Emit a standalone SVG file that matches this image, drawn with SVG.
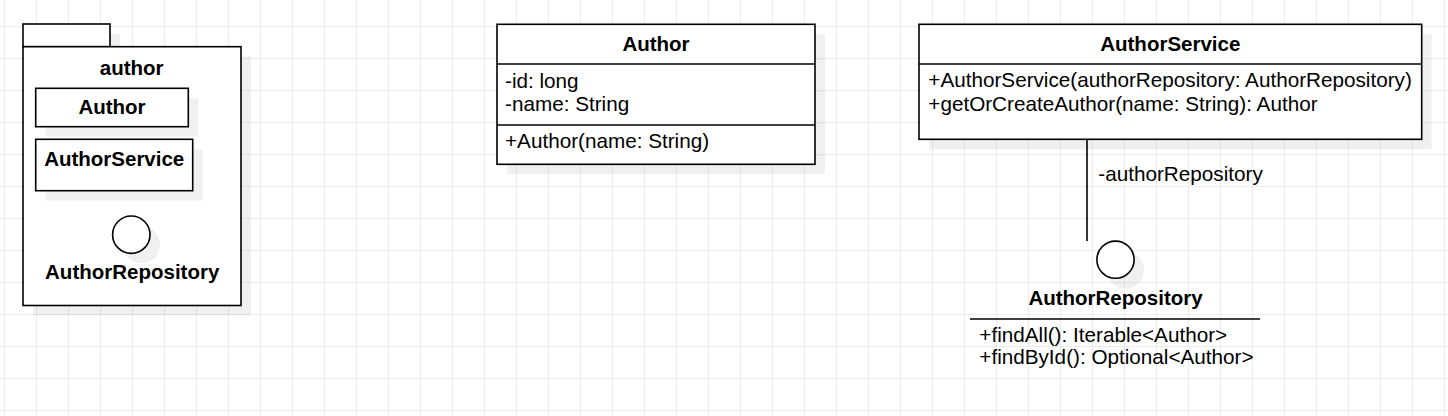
<svg xmlns="http://www.w3.org/2000/svg" width="1448" height="416" viewBox="0 0 1448 416">
  <defs>
    <pattern id="grid" x="4" y="26" width="32" height="32" patternUnits="userSpaceOnUse">
      <path d="M0 0.5 H32 M0.5 0 V32" fill="none" stroke="#ebebeb" stroke-width="1"/>
    </pattern>
  </defs>
  <style>
    text { font-family: "Liberation Sans", Arial, sans-serif; font-size: 20.7px; fill: #000; }
    .b { font-weight: bold; font-size: 20.5px; }
    .c { text-anchor: middle; }
    .box { fill: #fff; stroke: #000; stroke-width: 1.6; }
    .ln { fill: none; stroke: #000; stroke-width: 1.6; }
    .sh { fill: #000; fill-opacity: 0.06; stroke: none; }
  </style>
  <rect width="1448" height="416" fill="#fff"/>
  <rect width="1448" height="416" fill="url(#grid)"/>

  <g id="package-author">
    <rect class="sh" x="33" y="34" width="87" height="23"/>
    <rect class="sh" x="33" y="56.7" width="218" height="258.8"/>
    <rect class="box" x="23" y="24" width="87" height="22.7"/>
    <rect class="box" x="23" y="46.7" width="218" height="258.8"/>
    <text class="b c" x="131.7" y="75">author</text>
    <g id="pkg-author-class">
      <rect class="sh" x="45.7" y="98.3" width="152.6" height="38.4"/>
      <rect class="box" x="35.7" y="88.3" width="152.6" height="38.4"/>
      <text class="b c" x="112" y="114.3">Author</text>
    </g>
    <g id="pkg-authorservice-class">
      <rect class="sh" x="45.7" y="149.3" width="157" height="51.4"/>
      <rect class="box" x="35.7" y="139.3" width="157" height="51.4"/>
      <text class="b c" x="114.2" y="165.7">AuthorService</text>
    </g>
    <g id="pkg-authorrepository-interface">
      <circle class="sh" cx="141.3" cy="244.7" r="18.7"/>
      <circle class="box" cx="131.3" cy="234.7" r="18.7"/>
      <text class="b c" x="132.2" y="279.3">AuthorRepository</text>
    </g>
  </g>

  <g id="class-author">
    <rect class="sh" x="507" y="34.3" width="318" height="140"/>
    <rect class="box" x="497" y="24.3" width="318" height="140"/>
    <line class="ln" x1="497" y1="64" x2="815" y2="64"/>
    <line class="ln" x1="497" y1="125" x2="815" y2="125"/>
    <text class="b c" x="656" y="50.7">Author</text>
    <text x="505" y="87.5">-id: long</text>
    <text x="505" y="111">-name: String</text>
    <text x="505" y="148">+Author(name: String)</text>
  </g>

  <g id="class-authorservice">
    <rect class="sh" x="929" y="34.3" width="502.7" height="115"/>
    <rect class="box" x="919" y="24.3" width="502.7" height="115"/>
    <line class="ln" x1="919" y1="64" x2="1421.7" y2="64"/>
    <text class="b c" x="1170.3" y="50.7">AuthorService</text>
    <text x="928.3" y="87">+AuthorService(authorRepository: AuthorRepository)</text>
    <text x="928.3" y="110.5">+getOrCreateAuthor(name: String): Author</text>
  </g>

  <g id="connectors">
    <line class="ln" x1="1087" y1="139.3" x2="1087" y2="241"/>
    <text x="1098.3" y="180.7">-authorRepository</text>
  </g>

  <g id="interface-authorrepository">
    <circle class="sh" cx="1125.5" cy="270" r="18.6"/>
    <circle class="box" cx="1115.5" cy="259.7" r="18.6"/>
    <text class="b c" x="1115.5" y="305">AuthorRepository</text>
    <line class="ln" x1="970" y1="319" x2="1260" y2="319"/>
    <text x="979.3" y="341.5">+findAll(): Iterable&lt;Author&gt;</text>
    <text x="979.3" y="364">+findById(): Optional&lt;Author&gt;</text>
  </g>
</svg>
